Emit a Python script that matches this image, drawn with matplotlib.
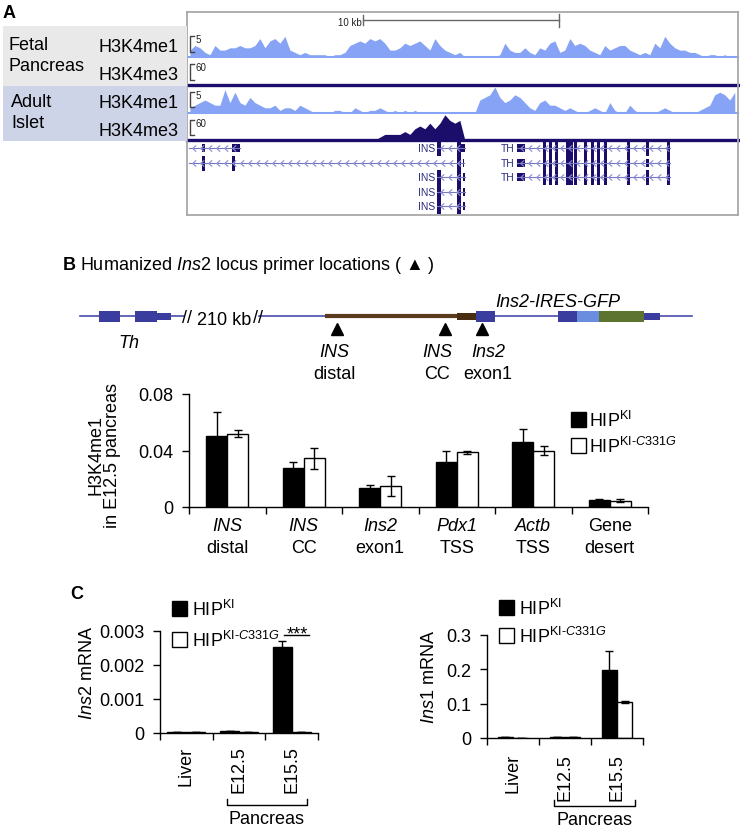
import numpy as np
import matplotlib
matplotlib.use("Agg")
import matplotlib.pyplot as plt
from matplotlib.patches import Rectangle
from matplotlib.path import Path

plt.rcParams["font.family"] = ["Liberation Sans", "DejaVu Sans"]
plt.rcParams["mathtext.fontset"] = "custom"
plt.rcParams["mathtext.rm"] = "Liberation Sans"
plt.rcParams["mathtext.it"] = "Liberation Sans:italic"
plt.rcParams["mathtext.bf"] = "Liberation Sans:bold"
plt.rcParams["axes.linewidth"] = 1.0

W, H = 740, 829
FS = 13

# ---------------- data ----------------
# A: browser coverage, 5 px bins (0.255 kb) starting at 0.15 kb, heights on a 0-10 scale
fetal_me1 = [3, 5, 4, 2, 1, 5, 3, 3, 4, 4, 5, 4, 4, 5, 8, 4, 7, 8, 6, 9, 3, 2, 1, 2, 1, 1, 1, 1, 0, 1,
             1, 2, 5, 6, 7, 6, 8,
             7, 8, 6, 3, 3, 4, 6, 5, 6, 7, 5, 3, 8, 5, 3, 2, 1, 2, 0, 0, 0, 0, 0, 0, 0, 1, 6, 3,
             2, 2, 4, 2, 1, 4, 3, 6, 7,
             2, 3, 8, 5, 6, 5, 3, 2, 1, 5, 3, 4, 5, 5, 3, 2, 1, 2, 1, 6, 4, 9, 6, 4, 3, 3, 2, 2,
             1, 0, 1, 1, 0, 1, 0, 0]
fetal_me3 = [0] * 110
adult_me1 = [2, 3, 4, 5, 4, 3, 3, 9, 4, 8, 4, 3, 6, 4, 3, 2, 2, 3, 1, 2, 2, 1, 3, 2, 1, 0, 0, 0, 0, 1,
             1, 0, 0, 2, 1, 0, 1,
             1, 2, 1, 0, 1, 0, 1, 0, 1, 0, 0, 0, 0, 0, 0, 0, 0, 0, 0, 0, 0, 5, 6, 7, 10, 6, 4, 5,
             7, 6, 4, 2, 1, 4, 5, 3, 3,
             2, 1, 2, 1, 0, 0, 1, 2, 1, 0, 4, 1, 0, 0, 3, 1, 0, 0, 0, 0, 1, 2, 1, 0, 0, 0, 0, 0,
             1, 2, 3, 7, 8, 7, 5, 8]
adult_me3 = [0] * 37 + [0, 1, 2, 2, 2, 2, 3, 2, 4, 5, 4, 6, 4, 6, 9, 7, 6, 7, 0] + [0] * 54
track_names = ["H3K4me1", "H3K4me3", "H3K4me1", "H3K4me3"]
track_scale = ["5", "60", "5", "60"]

# A: transcripts (kb from window start)
tx_row = [0, 1, 0, 2, 3, 4, 0, 1, 2]
tx_name = ["", "", "INS", "INS", "INS", "INS", "TH", "TH", "TH"]
tx_span = [(0.10, 2.70), (0.10, 14.15), (12.76, 14.18), (12.76, 14.16), (12.76, 14.16),
           (12.76, 14.16), (16.84, 24.62), (16.84, 24.62), (16.84, 24.62)]
th_exons = [18.15, 18.48, 18.78, 19.34, 19.51, 19.74, 20.26, 20.61, 20.90, 21.28, 22.43, 23.42, 24.47]
ins_exons = [(12.76, 12.96, "T"), (13.78, 13.98, "T")]
tx_exons = [
    [(0.77, 0.92, "H"), (2.30, 2.70, "H")],
    [(0.77, 0.92, "T"), (2.30, 2.45, "T"), (13.78, 13.98, "T"), (14.08, 14.15, "H")],
    ins_exons + [(13.98, 14.18, "H")],
    ins_exons + [(14.08, 14.16, "H")],
    ins_exons + [(14.08, 14.16, "H")],
    ins_exons + [(14.08, 14.16, "H")],
    [(16.84, 17.24, "H")] + [(e, e + 0.16, "T") for e in th_exons],
    [(16.84, 17.24, "H")] + [(e, e + 0.16, "H" if e == 23.42 else "T") for e in th_exons],
    [(16.84, 17.24, "H")] + [(e, e + 0.16, "T") for e in th_exons],
]

# B: ChIP-qPCR H3K4me1
cat_l1 = ["INS", "INS", "Ins2", "Pdx1", "Actb", "Gene"]
cat_l2 = ["distal", "CC", "exon1", "TSS", "TSS", "desert"]
cat_it = [True, True, True, True, True, False]
b_ki = [0.0506, 0.0278, 0.0136, 0.0320, 0.0459, 0.0049]
b_ki_err = [0.0165, 0.0040, 0.0017, 0.0080, 0.0092, 0.0007]
b_mut = [0.0518, 0.0346, 0.0148, 0.0388, 0.0400, 0.0045]
b_mut_err = [0.0024, 0.0074, 0.0071, 0.0012, 0.0032, 0.0012]

# C: mRNA
c_groups = ["Liver", "E12.5", "E15.5"]
ins2_ki = [0.00003, 0.00007, 0.00253]
ins2_ki_err = [0, 0, 0.00018]
ins2_mut = [0.00003, 0.00002, 0.00002]
ins2_mut_err = [0, 0, 0]
ins1_ki = [0.002, 0.002, 0.199]
ins1_ki_err = [0, 0, 0.053]
ins1_mut = [0.0, 0.004, 0.104]
ins1_mut_err = [0, 0, 0.003]

LBL_KI = r"HIP$^{\mathrm{KI}}$"
LBL_MUT = r"HIP$^{\mathrm{KI‐}\mathit{C331G}}$"

ME1 = "#86a3f5"
NAVY = "#1b0e6b"
BLUE = "#3a3d9e"

fig = plt.figure(figsize=(W / 100, H / 100), dpi=100)


def px_axes(x0, y0, x1, y1):
    return fig.add_axes([x0 / W, 1 - y1 / H, (x1 - x0) / W, (y1 - y0) / H])


ov = px_axes(0, 0, W, H)
ov.set_zorder(10)
ov.set_xlim(0, W)
ov.set_ylim(H, 0)
ov.axis("off")

# ---------------- panel A ----------------
ov.text(3, 18, "A", fontsize=FS, fontweight="bold", va="baseline")
ov.add_patch(Rectangle((3, 27), 184, 60, fc="#e9e9e9", ec="none"))
ov.add_patch(Rectangle((3, 87), 184, 55, fc="#cdd4e8", ec="none"))
for txt, x, y in [("Fetal", 9, 50), ("Pancreas", 9, 71), ("Adult", 11, 107), ("Islet", 11, 128)]:
    ov.text(x, y, txt, fontsize=FS, va="baseline")
for name, y in zip(track_names, [52, 80, 108, 136]):
    ov.text(98, y, name, fontsize=FS, va="baseline")

KB = 28.11
xs = 0.15 + 0.255 * np.arange(len(fetal_me1))
track_px = [(35, 58), (64, 86), (88, 114), (113, 141)]
tracks = [fetal_me1, fetal_me3, adult_me1, adult_me3]
for i, (vals, (t, b)) in enumerate(zip(tracks, track_px)):
    ta = px_axes(187, t, 738, b)
    ta.set_zorder(2)
    ta.set_xlim(0, KB)
    ta.set_ylim(0, 10)
    ta.axis("off")
    col = ME1 if i % 2 == 0 else NAVY
    ta.fill_between(xs, vals, color=col, lw=0)
    ta.axhline(0, color=col, lw=1.5 if i % 2 == 0 else 2.4, clip_on=False)

br = px_axes(187, 13, 738, 216)
br.set_zorder(3)
br.set_facecolor("none")
br.set_xlim(0, KB)
br.set_ylim(216, 13)
br.set_xticks([])
br.set_yticks([])
for s in br.spines.values():
    s.set_color("#a8a8a8")
    s.set_linewidth(1.3)

# scale bar
br.plot([9.0, 19.0], [21, 21], color="#666666", lw=1)
br.plot([9.0, 9.0], [16, 26], color="#666666", lw=1)
br.plot([19.0, 19.0], [15, 28], color="#666666", lw=1)
br.text(8.9, 26, "10 kb", ha="right", va="baseline", fontsize=7, color="#222222")

# track scale brackets
for (t, b), lab in zip([(37, 53), (65, 81), (93, 108), (121, 136)], track_scale):
    br.plot([0.36, 0.15, 0.15, 0.36], [t, t, b, b], color="#444444", lw=1)
    br.text(0.45, t + 3, lab, fontsize=7, va="center", color="#222222")

# gene models
row_y = [149, 164, 178, 193, 207]
chev = Path([(0.5, 0.9), (-0.5, 0.0), (0.5, -0.9)], [Path.MOVETO, Path.LINETO, Path.LINETO])
for r, name, (s0, s1), exons in zip(tx_row, tx_name, tx_span, tx_exons):
    y = row_y[r]
    br.plot([s0, s1], [y, y], color="#7878c2", lw=0.8)
    cx = np.arange(s0 + 0.25, s1 - 0.1, 0.41)
    br.plot(cx, [y] * len(cx), ls="none", marker=chev, ms=4.5, mfc="none",
            mec="#8c8cd2", mew=0.8)
    for h, hh in [("T", 15), ("H", 8)]:
        xr = [(e0, e1 - e0) for e0, e1, k in exons if k == h]
        if xr:
            br.broken_barh(xr, (y - hh / 2, hh), color=NAVY, lw=0)
    if name:
        br.text(s0 - 0.11, y, name, ha="right", va="center", fontsize=7.5, color="#2d2d80")

# ---------------- panel B schematic ----------------
ov.text(63, 270, "B", fontsize=FS, fontweight="bold", va="baseline")
ov.text(80, 270, r"Humanized $\mathit{Ins2}$ locus primer locations ( ▲ )", fontsize=FS, va="baseline")

ov.plot([80, 184], [317, 317], color="#4b4bab", lw=1.2)
ov.plot([259, 692], [317, 317], color="#4b4bab", lw=1.2)
ov.plot([327, 457], [317, 317], color="#5b3b1e", lw=3)
sch_boxes = [(99, 120, BLUE, "T"), (135, 157, BLUE, "T"), (157, 171, BLUE, "H"),
             (457, 476, "#4a2e12", "H"), (476, 495, BLUE, "T"), (558, 577, BLUE, "T"),
             (577, 599, "#6b8de0", "T"), (599, 644, "#5d7431", "T"), (644, 660, BLUE, "H")]
for x0, x1, c, k in sch_boxes:
    y0, hh = (312, 11) if k == "T" else (314, 7)
    ov.add_patch(Rectangle((x0, y0), x1 - x0, hh, fc=c, ec="none", zorder=3))
ov.text(187, 318, "//", ha="center", va="center", fontsize=FS)
ov.text(258, 318, "//", ha="center", va="center", fontsize=FS)
ov.text(224, 325, "210 kb", ha="center", va="baseline", fontsize=FS)
ov.text(129, 348, "Th", ha="center", va="baseline", fontsize=FS, fontstyle="italic")
ov.text(495, 307, "Ins2-IRES-GFP", ha="left", va="baseline", fontsize=FS, fontstyle="italic")

primer_x = [337, 445, 482]
primer_l1 = ["INS", "INS", "Ins2"]
primer_l2 = ["distal", "CC", "exon1"]
primer_lx = [334, 437, 488]
ov.plot(primer_x, [330] * 3, ls="none", marker="^", ms=9, color="k")
for x, l1, l2 in zip(primer_lx, primer_l1, primer_l2):
    ov.text(x, 357, l1, ha="center", va="baseline", fontsize=FS, fontstyle="italic")
    ov.text(x, 379, l2, ha="center", va="baseline", fontsize=FS)


# ---------------- bar helpers ----------------
def style_bar_ax(ax, n, ymax, yticks, ylabels):
    ax.spines[["top", "right"]].set_visible(False)
    ax.set_xlim(0, n)
    ax.set_ylim(0, ymax)
    ax.set_xticks(np.arange(n) + 0.5)
    ax.set_xticks(np.arange(n + 1), minor=True)
    ax.tick_params(axis="x", which="major", length=0, labelsize=FS)
    ax.tick_params(axis="x", which="minor", length=5, width=1, direction="out")
    ax.set_yticks(yticks)
    ax.set_yticklabels(ylabels)
    ax.tick_params(axis="y", length=5, width=1, labelsize=FS, pad=6)


def bars(ax, ki, ki_err, mut, mut_err, w):
    x = np.arange(len(ki)) + 0.5
    ekw = dict(ecolor="k", elinewidth=1, capsize=3, capthick=1)
    ax.bar(x - w / 2, ki, w, color="k", edgecolor="k", lw=1, yerr=ki_err, error_kw=ekw)
    ax.bar(x + w / 2, mut, w, color="white", edgecolor="k", lw=1, yerr=mut_err, error_kw=ekw)


def legend(x, y_ki, y_mut, tx):
    ov.add_patch(Rectangle((x, y_ki - 14), 15, 15, fc="k", ec="k", lw=1))
    ov.add_patch(Rectangle((x, y_mut - 14), 15, 15, fc="white", ec="k", lw=1))
    ov.text(tx, y_ki, LBL_KI, fontsize=FS, va="baseline")
    ov.text(tx, y_mut, LBL_MUT, fontsize=FS, va="baseline")


# ---------------- panel B bars ----------------
ax_b = px_axes(189, 395, 648, 508)
bars(ax_b, b_ki, b_ki_err, b_mut, b_mut_err, 0.275)
style_bar_ax(ax_b, 6, 0.08, [0, 0.04, 0.08], ["0", "0.04", "0.08"])
ax_b.set_xticklabels([])
for i in range(6):
    ax_b.text(i + 0.5, -0.2035, cat_l1[i], transform=ax_b.get_xaxis_transform(), ha="center",
              va="baseline", fontsize=FS, fontstyle="italic" if cat_it[i] else "normal")
    ax_b.text(i + 0.5, -0.398, cat_l2[i], transform=ax_b.get_xaxis_transform(), ha="center",
              va="baseline", fontsize=FS)
ov.text(104, 455, "H3K4me1\nin E12.5 pancreas", rotation=90, ha="center", va="center",
        fontsize=FS, linespacing=1.0, multialignment="center")
legend(571, 427, 453, 589)

# ---------------- panel C ----------------
ov.text(70, 599, "C", fontsize=FS, fontweight="bold", va="baseline")

ax_c1 = px_axes(160, 632, 318, 734)
bars(ax_c1, ins2_ki, ins2_ki_err, ins2_mut, ins2_mut_err, 0.36)
style_bar_ax(ax_c1, 3, 0.003, [0, 0.001, 0.002, 0.003], ["0", "0.001", "0.002", "0.003"])
ax_c1.set_xticklabels(c_groups, rotation=90, va="top")
ax_c1.tick_params(axis="x", which="major", pad=9)
ax_c1.plot([2.35, 2.83], [0.00288, 0.00288], color="k", lw=1, clip_on=False)
ax_c1.text(2.6, 0.00278, "***", ha="center", va="baseline", fontsize=FS, clip_on=False)
ov.text(88, 673, r"$\mathit{Ins2}$ mRNA", rotation=90, ha="center", va="center", fontsize=FS)
legend(172, 616, 647, 192)

ax_c2 = px_axes(487, 636, 643, 739)
bars(ax_c2, ins1_ki, ins1_ki_err, ins1_mut, ins1_mut_err, 0.29)
style_bar_ax(ax_c2, 3, 0.3, [0, 0.1, 0.2, 0.3], ["0", "0.1", "0.2", "0.3"])
ax_c2.set_xticklabels(c_groups, rotation=90, va="top")
ax_c2.tick_params(axis="x", which="major", pad=11)
ov.text(429, 677, r"$\mathit{Ins1}$ mRNA", rotation=90, ha="center", va="center", fontsize=FS)
legend(499, 615, 643, 519)

# pancreas brackets
for x0, x1, y, ty in [(227, 307, 806, 824), (554, 635, 807, 825)]:
    ov.plot([x0, x0, x1, x1], [y - 6, y, y, y - 6], color="k", lw=1)
    ov.text((x0 + x1) / 2, ty, "Pancreas", ha="center", va="baseline", fontsize=FS)

fig.savefig("out.png", dpi=100)
